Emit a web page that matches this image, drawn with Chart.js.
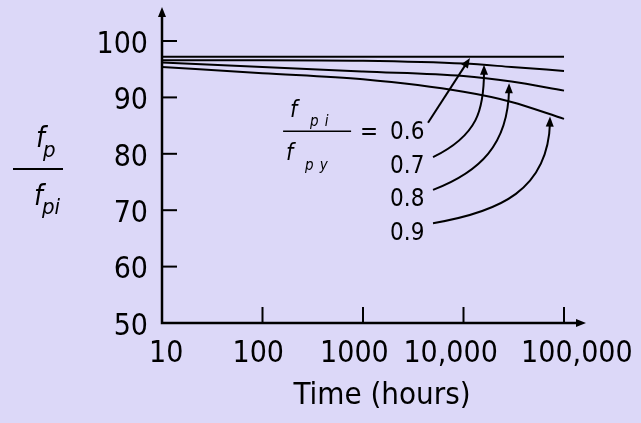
<!DOCTYPE html>
<html><head><meta charset="utf-8">
<script src="https://cdn.jsdelivr.net/npm/chart.js@4"></script>
<style>html,body{margin:0;padding:0;background:#DCD8F8;overflow:hidden}</style>
</head><body>
<canvas id="c" width="641" height="423"></canvas>
<script>
// ---- data ----
const timeHours = [10, 100, 1000, 10000, 30000, 100000];
const ratioLabels = ['0.6', '0.7', '0.8', '0.9'];
const fpRatio06 = [97.2, 97.2, 97.2, 97.2, 97.2, 97.2];
const fpRatio07 = [96.6, 96.6, 96.5, 96.0, 95.4, 94.7];
const fpRatio08 = [96.2, 95.4, 94.6, 93.8, 92.8, 91.2];
const fpRatio09 = [95.4, 94.3, 93.2, 91.0, 89.2, 86.2];
const xTickValues = [10, 100, 1000, 10000, 100000];
const xTickLabels = [' 10', '100 ', '1000  ', '10,000   ', '   100,000'];
const yTickValues = [50, 60, 70, 80, 90, 100];

// ---- annotation geometry (data coordinates: [hours, fp/fpi]) ----
const arrowPaths = [
  {from: [4436, 85.5], to: [11600, 97.0]},
  {from: [4975, 79.4], c1: [13900, 83.3], c2: [16000, 87.8], to: [16000, 95.8]},
  {from: [4975, 73.6], c1: [14600, 76.8], c2: [27700, 81.6], to: [28400, 92.5]},
  {from: [4975, 67.7], c1: [23100, 69.7], c2: [69300, 73.6], to: [72600, 86.6]}
];

const FONT = '"DejaVu Sans Condensed", "DejaVu Sans", sans-serif';
const BG = '#DCD8F8';

const seriesList = [fpRatio06, fpRatio07, fpRatio08, fpRatio09];
const datasets = seriesList.map((s, k) => ({
  label: ratioLabels[k],
  data: timeHours.map((t, i) => ({x: t, y: s[i]})),
  borderColor: '#000',
  borderWidth: 2,
  pointRadius: 0,
  fill: false,
  cubicInterpolationMode: 'monotone'
}));

function arrowHead(ctx, x, y, fromX, fromY) {
  const a = Math.atan2(y - fromY, x - fromX);
  const L = 10, W = 4;
  ctx.beginPath();
  ctx.moveTo(x, y);
  ctx.lineTo(x - L * Math.cos(a) + W * Math.sin(a), y - L * Math.sin(a) - W * Math.cos(a));
  ctx.lineTo(x - L * Math.cos(a) - W * Math.sin(a), y - L * Math.sin(a) + W * Math.cos(a));
  ctx.closePath();
  ctx.fill();
}

const decor = {
  id: 'decor',
  beforeDraw(chart) {
    const ctx = chart.ctx;
    ctx.save();
    ctx.fillStyle = BG;
    ctx.fillRect(0, 0, chart.width, chart.height);
    ctx.restore();
  },
  afterDraw(chart) {
    const ctx = chart.ctx;
    const xs = chart.scales.x, ys = chart.scales.y;
    const P = (p) => [xs.getPixelForValue(p[0]), ys.getPixelForValue(p[1])];
    const L = chart.chartArea.left, B = chart.chartArea.bottom, T = chart.chartArea.top;
    const xEnd = xs.getPixelForValue(100000) + 22;
    ctx.save();
    ctx.strokeStyle = '#000';
    ctx.fillStyle = '#000';
    // axes
    ctx.lineWidth = 2.5;
    ctx.beginPath();
    ctx.moveTo(L, T - 28);
    ctx.lineTo(L, B);
    ctx.lineTo(xEnd - 6, B);
    ctx.stroke();
    arrowHead(ctx, L, T - 34, L, T);
    arrowHead(ctx, xEnd, B, L, B);
    // tick marks
    ctx.lineWidth = 2;
    ys.ticks.forEach(t => {
      const y = ys.getPixelForValue(t.value);
      if (t.value === 50) return;
      ctx.beginPath(); ctx.moveTo(L, y); ctx.lineTo(L + 15, y); ctx.stroke();
    });
    xs.ticks.forEach(t => {
      const x = xs.getPixelForValue(t.value);
      if (t.value === 10) return;
      ctx.beginPath(); ctx.moveTo(x, B); ctx.lineTo(x, B - 16); ctx.stroke();
    });
    // y-axis title: fp / fpi
    ctx.textAlign = 'left';
    ctx.textBaseline = 'alphabetic';
    ctx.font = 'italic 28px ' + FONT;
    ctx.fillText('f', 36, 147);
    ctx.font = 'italic 22px ' + FONT;
    ctx.fillText('p', 43, 157);
    ctx.lineWidth = 2;
    ctx.beginPath(); ctx.moveTo(13, 169); ctx.lineTo(63, 169); ctx.stroke();
    ctx.font = 'italic 28px ' + FONT;
    ctx.fillText('f', 34, 205);
    ctx.font = 'italic 22px ' + FONT;
    ctx.fillText('pi', 42, 214);
    // ratio fraction fpi / fpy =
    const a0 = P([1860, 82.6]);
    const lx = a0[0], by = a0[1];
    ctx.font = 'italic 23px ' + FONT;
    ctx.fillText('f', lx - 100, by - 22);
    ctx.font = 'italic 15px ' + FONT;
    ctx.letterSpacing = '6px';
    ctx.fillText('pi', lx - 80, by - 13);
    ctx.letterSpacing = '0px';
    ctx.lineWidth = 1.5;
    ctx.beginPath(); ctx.moveTo(lx - 107, by - 8); ctx.lineTo(lx - 39, by - 8); ctx.stroke();
    ctx.font = 'italic 23px ' + FONT;
    ctx.fillText('f', lx - 104, by + 21);
    ctx.font = 'italic 15px ' + FONT;
    ctx.letterSpacing = '6px';
    ctx.fillText('py', lx - 85, by + 31);
    ctx.letterSpacing = '0px';
    ctx.font = '24px ' + FONT;
    ctx.fillText('=', lx - 30, by);
    ratioLabels.forEach((r, k) => {
      ctx.fillText(r, lx, by + k * 33.5);
    });
    // arrows
    ctx.lineWidth = 2;
    arrowPaths.forEach(a => {
      const p0 = P(a.from), p3 = P(a.to);
      ctx.beginPath();
      ctx.moveTo(p0[0], p0[1]);
      let last;
      if (a.c1) {
        const c1 = P(a.c1), c2 = P(a.c2);
        ctx.bezierCurveTo(c1[0], c1[1], c2[0], c2[1], p3[0], p3[1] + 6);
        last = c2;
      } else {
        ctx.lineTo(p3[0] - (p3[0] - p0[0]) * 0.08, p3[1] - (p3[1] - p0[1]) * 0.08);
        last = p0;
      }
      ctx.stroke();
      arrowHead(ctx, p3[0], p3[1], last[0], last[1]);
    });
    ctx.restore();
  }
};

new Chart(document.getElementById('c'), {
  type: 'line',
  data: {datasets},
  options: {
    responsive: false,
    animation: false,
    devicePixelRatio: 1,
    layout: {padding: {top: 41, right: 39, left: 0, bottom: 0}},
    plugins: {legend: {display: false}, tooltip: {enabled: false}},
    scales: {
      x: {
        type: 'logarithmic',
        min: 10, max: 238800,
        afterBuildTicks: s => { s.ticks = xTickValues.map(v => ({value: v})); },
        afterFit: s => { s.height = 100; s.paddingLeft = 0; s.paddingRight = 0; },
        grid: {display: false, drawTicks: false},
        border: {display: false},
        ticks: {
          autoSkip: false, maxRotation: 0, padding: 13, color: '#000',
          font: {family: FONT, size: 30},
          callback: (v, i) => xTickLabels[i]
        },
        title: {display: true, text: 'Time (hours)', color: '#000',
                font: {family: FONT, size: 31}, padding: {top: 0, bottom: 8}}
      },
      y: {
        type: 'linear',
        min: 50, max: 100,
        afterBuildTicks: s => { s.ticks = yTickValues.map(v => ({value: v})); },
        afterFit: s => { s.width = 162; s.paddingTop = 0; s.paddingBottom = 0; },
        grid: {display: false, drawTicks: false},
        border: {display: false},
        ticks: {padding: 14, labelOffset: 4, color: '#000', font: {family: FONT, size: 30}}
      }
    }
  },
  plugins: [decor]
});
</script>
</body></html>
